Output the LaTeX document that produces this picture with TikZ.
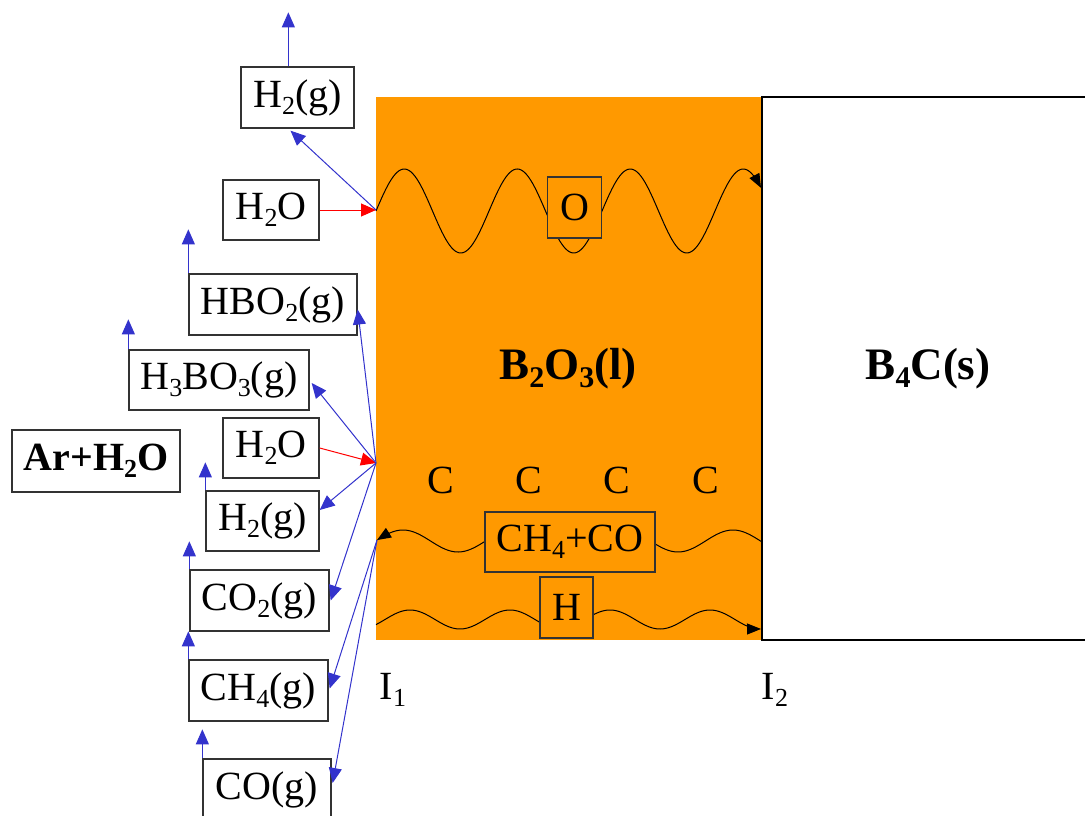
\documentclass[tikz,border=0pt]{standalone}
\usepackage{fontspec}
\setmainfont{Liberation Serif}
\usetikzlibrary{arrows.meta}
\definecolor{org}{HTML}{FF9900}
\definecolor{bl}{HTML}{3333CC}
\definecolor{rd}{HTML}{FF0000}
\newcommand\sbs[1]{\raisebox{-7pt}{\fontsize{26}{26}\selectfont #1}}
\newcommand\bsbs[1]{\raisebox{-8pt}{\fontsize{30}{30}\selectfont #1}}
\begin{document}
\begin{tikzpicture}[x=1pt,y=-1pt,
  box/.style={draw=black!80, line width=1.3pt, inner sep=0pt, font=\fontsize{40}{40}\selectfont},
  obox/.style={box, fill=org},
  lbl/.style={inner sep=0pt, font=\fontsize{40}{40}\selectfont},
  big/.style={inner sep=0pt, font=\fontsize{45}{45}\selectfont\bfseries},
  blu/.style={draw=bl, line width=1pt, -{Triangle[width=13pt,length=15pt]}},
  rdarr/.style={draw=rd, line width=1pt, -{Triangle[width=13pt,length=15pt]}},
  wav/.style={draw=black, line width=1pt},
  wtip/.tip={Triangle[width=11pt,length=14pt]}
]
\useasboundingbox (0,0) rectangle (1085,816);
% regions
\fill[org] (376,97) rectangle (762,640);
\draw[line width=1.2pt] (1090,97) -- (762,97) -- (762,640) -- (1090,640);

% interface points
\coordinate (s1) at (376,210);
\coordinate (s2) at (376,463);
\coordinate (s3) at (377,540);

% waves
\draw[wav, -wtip] plot[domain=376:761, samples=200] (\x, {211-42*sin(3.18584*(\x-376))});
\draw[wav, wtip-] plot[domain=377:762, samples=200] (\x, {541-11*cos(3.27273*(\x-403))});
\draw[wav, -wtip] plot[domain=376:761, samples=200] (\x, {619.5-9.5*cos(3.6*(\x-410))});

% inner boxes
\node[obox, minimum width=54pt, minimum height=61pt] (o) at (574.5,207.5) {O};
\node[obox, minimum width=170pt, minimum height=60pt] (ch4co) at (570,542) {CH\sbs{4}+CO};
\node[obox, minimum width=53pt, minimum height=61pt] (hb) at (566.5,607.5) {H};

% labels
\node[big] (b2o3) at (568,369) {B\bsbs{2}O\bsbs{3}(l)};
\node[big] (b4c) at (928,369) {B\bsbs{4}C(s)};
\node[lbl] (c1) at (441,480) {C};
\node[lbl] (c2) at (529,480) {C};
\node[lbl] (c3) at (617,480) {C};
\node[lbl] (c4) at (706,480) {C};
\node[lbl] (i1) at (393,690) {I\sbs{1}};
\node[lbl] (i2) at (775,690) {I\sbs{2}};

% left boxes
\node[box, minimum width=113pt, minimum height=61pt] (h2top) at (297.5,97.5) {H\sbs{2}(g)};
\node[box, minimum width=96pt, minimum height=60pt] (h2otop) at (271,210) {H\sbs{2}O};
\node[box, minimum width=168pt, minimum height=61pt] (hbo2) at (273,304.5) {HBO\sbs{2}(g)};
\node[box, minimum width=180pt, minimum height=60pt] (h3bo3) at (219,380) {H\sbs{3}BO\sbs{3}(g)};
\node[box, minimum width=96pt, minimum height=60pt] (h2omid) at (271,448) {H\sbs{2}O};
\node[box, minimum width=113pt, minimum height=60pt] (h2mid) at (262.5,521) {H\sbs{2}(g)};
\node[box, minimum width=168pt, minimum height=62pt, font=\fontsize{40}{40}\selectfont\bfseries] (arh2o) at (96,461) {Ar+H\sbs{2}O};
\node[box, minimum width=139pt, minimum height=61pt] (co2) at (259.5,600.5) {CO\sbs{2}(g)};
\node[box, minimum width=139pt, minimum height=61pt] (ch4) at (258.5,690.5) {CH\sbs{4}(g)};
\node[box, minimum width=128pt, minimum height=62pt] (co) at (267,790) {CO(g)};

% up arrows
\draw[blu] ([xshift=48pt]h2top.north west) -- ++(0,-54);
\draw[blu] (hbo2.north west) -- ++(0,-44);
\draw[blu] (h3bo3.north west) -- ++(0,-30);
\draw[blu] (h2mid.north west) -- ++(0,-28);
\draw[blu] (co2.north west) -- ++(0,-28);
\draw[blu] (ch4.north west) -- ++(0,-28);
\draw[blu] (co.north west) -- ++(0,-29);

% red arrows
\draw[rdarr] (h2otop.east) -- (s1);
\draw[rdarr] (h2omid.east) -- (s2);

% blue product arrows
\draw[blu] (s1) -- ([xshift=-7pt,yshift=-2pt]h2top.south);
\draw[blu] (s2) -- ([yshift=-5pt]hbo2.east);
\draw[blu] (s2) -- ([xshift=2pt,yshift=-3pt]h3bo3.east);
\draw[blu] (s2) -- ([yshift=11pt]h2mid.east);
\draw[blu] (s2) -- ([xshift=1pt]co2.east);
\draw[blu] (s3) -- ([xshift=1pt,yshift=2pt]ch4.east);
\draw[blu] (s3) -- ([xshift=1pt,yshift=7pt]co.east);
\end{tikzpicture}
\end{document}
